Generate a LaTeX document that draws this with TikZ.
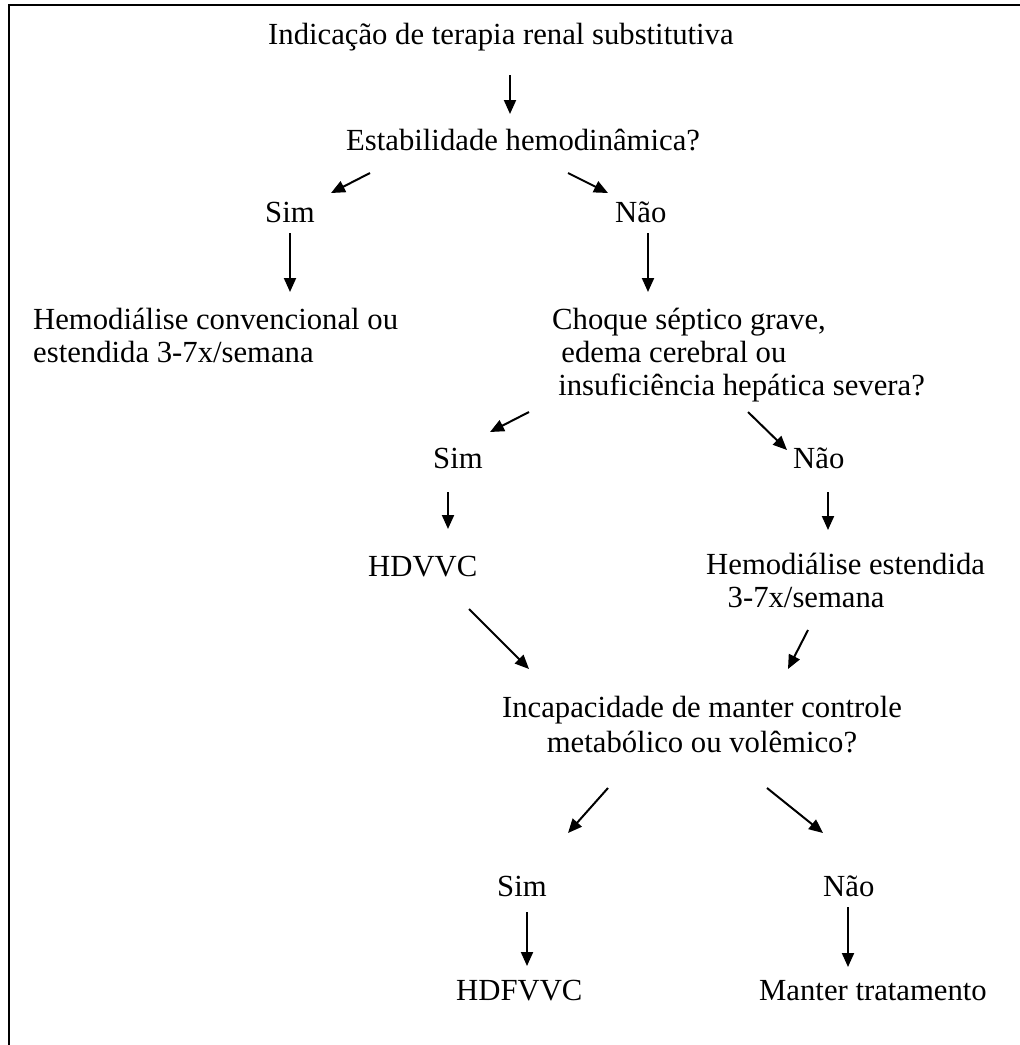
\documentclass[tikz,border=0pt]{standalone}
\usepackage{fontspec}
\setmainfont{Liberation Serif}
\usetikzlibrary{arrows.meta}
\tikzset{
  txt/.style={inner sep=0pt, anchor=base west, align=left, font=\fontsize{30.7}{33}\selectfont},
  ctxt/.style={inner sep=0pt, anchor=base, align=center, font=\fontsize{30.7}{35}\selectfont},
  arr/.style={line width=2pt, -{Triangle[length=14pt,width=12pt]}},
  frame/.style={line width=2.2pt}
}
\begin{document}
\begin{tikzpicture}[x=1pt,y=-1pt]
\useasboundingbox (0,0) rectangle (1020,1045);
\draw[frame] (9,1050) -- (9,5) -- (1025,5);

% nodes (multi-line nodes are placed by the baseline of their last line)
\node[txt] (title) at (268,44) {Indicação de terapia renal substitutiva};
\node[txt] (estab) at (346,150) {Estabilidade hemodinâmica?};
\node[txt] (sim1) at (265,222) {Sim};
\node[txt] (nao1) at (615,222) {Não};
\node[txt] (hemo1) at (33,362) {Hemodiálise convencional ou\\estendida 3-7x/semana};
\node[txt] (choque) at (552,395) {Choque séptico grave,\\\hspace*{0.3em}edema cerebral ou\\\hspace*{0.2em}insuficiência hepática severa?};
\node[txt] (sim2) at (433,468) {Sim};
\node[txt] (nao2) at (793,468) {Não};
\node[txt] (hdvvc) at (368,576) {HDVVC};
\node[txt] (hemo2) at (706,607) {Hemodiálise estendida\\\hspace*{0.7em}3-7x/semana};
\node[ctxt] (incap) at (702,752) {Incapacidade de manter controle\\metabólico ou volêmico?};
\node[txt] (sim3) at (497,896) {Sim};
\node[txt] (nao3) at (823,896) {Não};
\node[txt] (hdfvvc) at (456,1000) {HDFVVC};
\node[txt] (manter) at (759,1000) {Manter tratamento};

% connector end points
\coordinate (a1s) at (510,75);  \coordinate (a1e) at (510,114);
\coordinate (a2s) at (370,173); \coordinate (a2e) at (331,193);
\coordinate (a3s) at (568,173); \coordinate (a3e) at (608,193);
\coordinate (a4s) at (290,233); \coordinate (a4e) at (290,292);
\coordinate (a5s) at (648,233); \coordinate (a5e) at (648,292);
\coordinate (a6s) at (529,412); \coordinate (a6e) at (490,432);
\coordinate (a7s) at (748,412); \coordinate (a7e) at (787,450);
\coordinate (a8s) at (448,492); \coordinate (a8e) at (448,529);
\coordinate (a9s) at (828,492); \coordinate (a9e) at (828,530);
\coordinate (a10s) at (469,609); \coordinate (a10e) at (529,669);
\coordinate (a11s) at (808,630); \coordinate (a11e) at (788,669);
\coordinate (a12s) at (608,788); \coordinate (a12e) at (568,833);
\coordinate (a13s) at (767,788); \coordinate (a13e) at (823,833);
\coordinate (a14s) at (527,912); \coordinate (a14e) at (527,966);
\coordinate (a15s) at (848,907); \coordinate (a15e) at (848,967);

\draw[arr] (a1s) -- (a1e);
\draw[arr] (a2s) -- (a2e);
\draw[arr] (a3s) -- (a3e);
\draw[arr] (a4s) -- (a4e);
\draw[arr] (a5s) -- (a5e);
\draw[arr] (a6s) -- (a6e);
\draw[arr] (a7s) -- (a7e);
\draw[arr] (a8s) -- (a8e);
\draw[arr] (a9s) -- (a9e);
\draw[arr] (a10s) -- (a10e);
\draw[arr] (a11s) -- (a11e);
\draw[arr] (a12s) -- (a12e);
\draw[arr] (a13s) -- (a13e);
\draw[arr] (a14s) -- (a14e);
\draw[arr] (a15s) -- (a15e);
\end{tikzpicture}
\end{document}
